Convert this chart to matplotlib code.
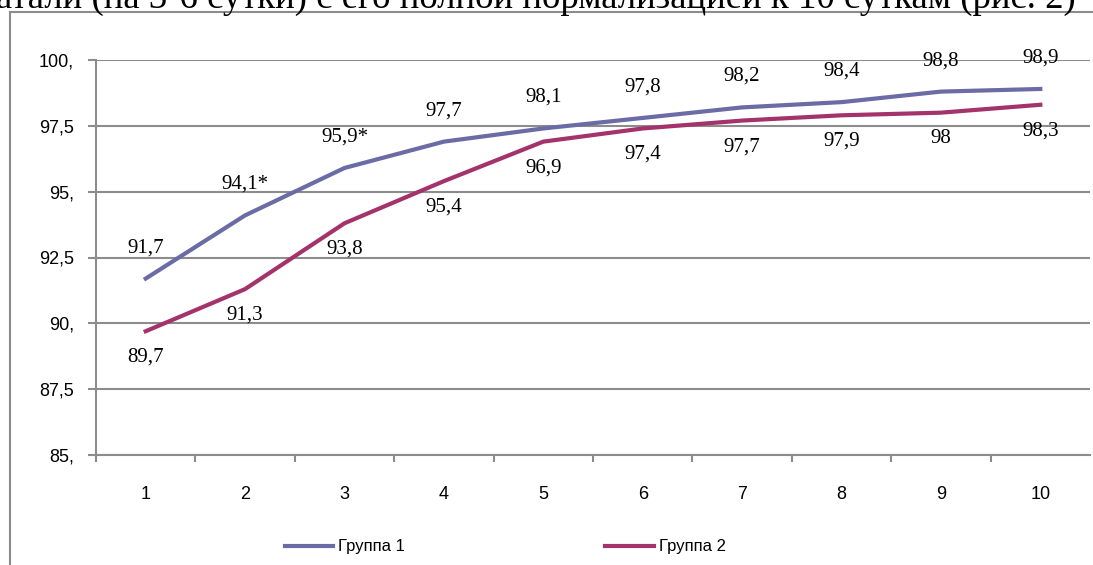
import matplotlib.pyplot as plt
from matplotlib.patches import Rectangle

days = [1, 2, 3, 4, 5, 6, 7, 8, 9, 10]
group1 = [91.7, 94.1, 95.9, 96.9, 97.4, 97.8, 98.2, 98.4, 98.8, 98.9]
group2 = [89.7, 91.3, 93.8, 95.4, 96.9, 97.4, 97.7, 97.9, 98.0, 98.3]
labels1 = ['91,7', '94,1*', '95,9*', '97,7', '98,1', '97,8', '98,2', '98,4', '98,8', '98,9']
labels2 = ['89,7', '91,3', '93,8', '95,4', '96,9', '97,4', '97,7', '97,9', '98', '98,3']
yticks = [85, 87.5, 90, 92.5, 95, 97.5, 100]
ytick_labels = ['85,', '87,5', '90,', '92,5', '95,', '97,5', '100,']

c1 = '#6b6ba6'
c2 = '#a3336a'
grey = '#8c8c8c'

fig = plt.figure(figsize=(10.93, 5.65), dpi=100)

# outer frame of the chart object, cut at the right and bottom
fig.patches.append(Rectangle((10 / 1093, -0.05), 1.2, 1 - 12 / 565 + 0.05,
                             transform=fig.transFigure, fill=False,
                             edgecolor=grey, lw=1.5))

# line of the article text above the chart, cut by the top edge
fig.text(-4 / 1093, 1 - 8 / 565, 'атали (на 3-6 сутки) с его полной нормализацией к 10 суткам (рис. 2)',
         ha='left', va='baseline', family='Liberation Serif', fontsize=26.5)

ax = fig.add_axes([96 / 1093, 1 - 455 / 565, 994 / 1093, 395 / 565])
ax.plot(days, group1, color=c1, lw=3, label='Группа 1')
ax.plot(days, group2, color=c2, lw=3, label='Группа 2')

for x, y, t in zip(days, group1, labels1):
    ax.annotate(t, (x, y), xytext=(0, 31), textcoords='offset pixels',
                ha='center', va='center', family='Liberation Serif', fontsize=15)
for x, y, t in zip(days, group2, labels2):
    ax.annotate(t, (x, y), xytext=(0, -26), textcoords='offset pixels',
                ha='center', va='center', family='Liberation Serif', fontsize=15)

ax.set_xlim(0.5, 10.5)
ax.set_ylim(85, 100)
ax.set_yticks(yticks)
ax.set_yticklabels(ytick_labels, family='Liberation Sans', fontsize=13)
ax.set_xticks(days)
ax.set_xticklabels([str(d) for d in days], family='Liberation Sans', fontsize=13)
ax.set_xticks([d + 0.5 for d in days[:-1]] + [0.5], minor=True)
ax.tick_params(axis='x', which='major', length=0, pad=22)
ax.tick_params(axis='x', which='minor', length=5, width=1.5, color=grey)
ax.tick_params(axis='y', length=6, width=1.5, color=grey, pad=10)
ax.grid(axis='y', color=grey, lw=1.5)
ax.set_axisbelow(True)
for s in ['top', 'right']:
    ax.spines[s].set_visible(False)
for s in ['left', 'bottom']:
    ax.spines[s].set_color(grey)
    ax.spines[s].set_linewidth(1.5)

ax.legend(loc='center left', bbox_to_anchor=(285 / 1093, 1 - 547 / 565),
          bbox_transform=fig.transFigure, ncol=2, frameon=False,
          prop={'family': 'Liberation Sans', 'size': 12},
          handlelength=2.9, handletextpad=0.3, columnspacing=12,
          borderaxespad=0, borderpad=0)

fig.savefig('out.png', dpi=100)
